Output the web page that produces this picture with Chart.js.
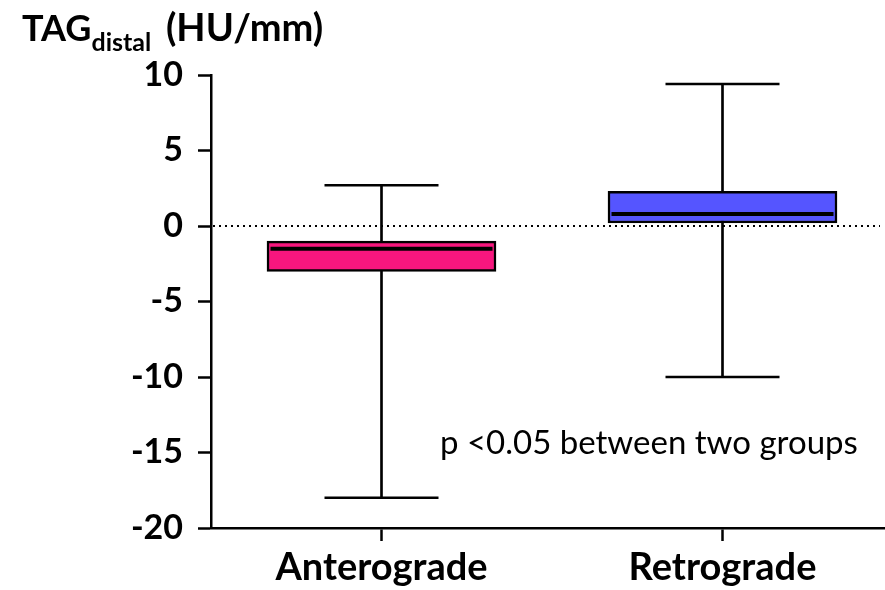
<!DOCTYPE html>
<html>
<head>
<meta charset="utf-8">
<script src="https://cdn.jsdelivr.net/npm/chart.js@4.4.0/dist/chart.umd.min.js"></script>
<style>
    body { margin: 0; background: #fff; }
    #wrap { position: relative; width: 885px; height: 590px; overflow: hidden; }
    #grafico { position: absolute; left: 0; top: 0; }
    .titulo { position: absolute; left: 22px; top: 7px; font: bold 36px Lato, sans-serif; color: #000; white-space: nowrap; line-height: 1; }
    .titulo sub { font-size: 25px; vertical-align: -10px; }
    .titulo .unid { font-size: 38px; margin-left: 6px; }
    .nota { position: absolute; left: 440px; top: 425px; font: 33px Lato, sans-serif; color: #000; white-space: nowrap; line-height: 1; }
</style>
</head>
<body>
<div id="wrap">
    <canvas id="grafico" width="893" height="590"></canvas>
    <div class="titulo">TAG<sub>distal</sub> <span class="unid">(HU/mm)</span></div>
    <div class="nota">p &lt;0.05 between two groups</div>
</div>
<script>
// Dados (HU/mm)
const grupos = ["Anterograde", "Retrograde"];
const minimos = [-18, -10];
const q1 = [-3, 0.2];
const medianas = [-1.5, 0.8];
const q3 = [-1, 2.3];
const maximos = [2.7, 9.4];
const cores = ["#F7167E", "#5555FF"];
const ticksY = [-20, -15, -10, -5, 0, 5, 10];

// Linha pontilhada no zero
const linhaZero = {
    id: "linhaZero",
    beforeDatasetsDraw(chart) {
        const { ctx, chartArea, scales } = chart;
        const y = scales.y.getPixelForValue(0);
        ctx.save();
        ctx.strokeStyle = "#000";
        ctx.lineWidth = 2;
        ctx.setLineDash([2, 4]);
        ctx.beginPath();
        ctx.moveTo(chartArea.left + 2, y);
        ctx.lineTo(880, y);
        ctx.stroke();
        ctx.restore();
    }
};

const fonteY = { family: "Lato", weight: "bold", size: 34 };
const fonteX = { family: "Lato", weight: "bold", size: 38 };

new Chart(document.getElementById("grafico").getContext("2d"), {
    type: "bar",
    data: {
        labels: grupos,
        datasets: [
            {
                // bigodes
                data: grupos.map((g, i) => [minimos[i], maximos[i]]),
                backgroundColor: "#000",
                barThickness: 2,
                grouped: false,
                order: 3
            },
            {
                // caixas
                data: grupos.map((g, i) => [q1[i], q3[i]]),
                backgroundColor: cores,
                borderColor: "#000",
                borderWidth: 2.5,
                borderSkipped: false,
                barThickness: 229,
                grouped: false,
                order: 2
            },
            {
                type: "line",
                data: maximos,
                showLine: false,
                pointStyle: "line",
                pointRadius: 57,
                pointBorderWidth: 2.5,
                pointBorderColor: "#000",
                clip: false,
                order: 1
            },
            {
                type: "line",
                data: minimos,
                showLine: false,
                pointStyle: "line",
                pointRadius: 57,
                pointBorderWidth: 2.5,
                pointBorderColor: "#000",
                clip: false,
                order: 1
            },
            {
                type: "line",
                data: medianas,
                showLine: false,
                pointStyle: "line",
                pointRadius: 111,
                pointBorderWidth: 4,
                pointBorderColor: "#000",
                clip: false,
                order: 1
            }
        ]
    },
    options: {
        responsive: false,
        animation: false,
        events: [],
        layout: { autoPadding: false, padding: { top: 75, right: 0, left: 0, bottom: 0 } },
        plugins: { legend: { display: false }, tooltip: { enabled: false } },
        scales: {
            x: {
                offset: true,
                afterFit: s => { s.height = 62; },
                border: { color: "#000", width: 2.5 },
                grid: { drawOnChartArea: false, offset: false, tickLength: 13, tickColor: "#000", tickWidth: 2.5 },
                ticks: { color: "#000", font: fonteX, padding: 4 }
            },
            y: {
                min: -20,
                max: 10,
                afterFit: s => { s.width = 211; },
                afterBuildTicks: s => { s.ticks = ticksY.map(v => ({ value: v })); },
                border: { color: "#000", width: 2.5 },
                grid: { drawOnChartArea: false, tickLength: 13, tickColor: "#000", tickWidth: 2.5 },
                ticks: { color: "#000", font: fonteY, padding: 15 }
            }
        }
    },
    plugins: [linhaZero]
});
</script>
</body>
</html>
